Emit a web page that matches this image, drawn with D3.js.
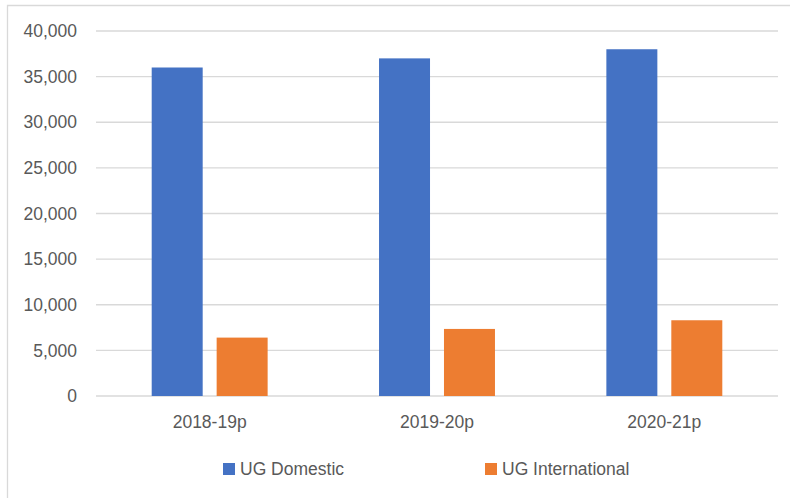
<!DOCTYPE html>
<html>
<head>
<meta charset="utf-8">
<script src="https://cdn.jsdelivr.net/npm/d3@7"></script>
<style>
  html, body { margin: 0; padding: 0; background: #fff; }
  svg { display: block; }
  text { font-family: "Liberation Sans", Arial, sans-serif; fill: #595959; }
</style>
</head>
<body>
<svg id="chart" width="790" height="498"></svg>
<script>
// Undergraduate enrolments by year
const years = ["2018-19p", "2019-20p", "2020-21p"];
const seriesNames = ["UG Domestic", "UG International"];
const ugDomestic = [36000, 37000, 38000];
const ugInternational = [6400, 7350, 8300];
const yTicks = [0, 5000, 10000, 15000, 20000, 25000, 30000, 35000, 40000];
const colors = ["#4472C4", "#ED7D31"];

const seriesValues = [ugDomestic, ugInternational];

const svg = d3.select("#chart");
const W = 790, H = 498;
const plot = { left: 96, right: 778, top: 31, bottom: 396 };

// chart frame
svg.append("path")
  .attr("d", `M7.5,${H} V5.5 H${W}`)
  .attr("fill", "none")
  .attr("stroke", "#d9d9d9")
  .attr("stroke-width", 1.3);

const y = d3.scaleLinear().domain([0, 40000]).range([plot.bottom, plot.top]);
const x0 = d3.scaleBand().domain(years).range([plot.left, plot.right]).padding(0);
const groupW = x0.bandwidth() * 0.51;
const x1 = d3.scaleBand().domain(seriesNames)
  .range([(x0.bandwidth() - groupW) / 2, (x0.bandwidth() + groupW) / 2])
  .paddingInner(0.215).paddingOuter(0);

// gridlines
svg.append("g")
  .selectAll("line")
  .data(yTicks)
  .join("line")
  .attr("x1", plot.left).attr("x2", plot.right)
  .attr("y1", d => y(d)).attr("y2", d => y(d))
  .attr("stroke", "#d9d9d9")
  .attr("stroke-width", 1.3);

// y axis labels
const fmt = d3.format(",");
svg.append("g")
  .selectAll("text")
  .data(yTicks)
  .join("text")
  .attr("x", 77)
  .attr("y", d => y(d))
  .attr("dy", "0.35em")
  .attr("text-anchor", "end")
  .attr("font-size", 17.5)
  .text(d => fmt(d));

// bars
const groups = svg.append("g")
  .selectAll("g")
  .data(years)
  .join("g")
  .attr("transform", d => `translate(${x0(d)},0)`);

groups.selectAll("rect")
  .data((d, i) => seriesNames.map((s, j) => ({ s, j, v: seriesValues[j][i] })))
  .join("rect")
  .attr("x", d => x1(d.s))
  .attr("width", x1.bandwidth())
  .attr("y", d => y(d.v))
  .attr("height", d => y(0) - y(d.v))
  .attr("fill", d => colors[d.j]);

// x axis labels
svg.append("g")
  .selectAll("text")
  .data(years)
  .join("text")
  .attr("x", d => x0(d) + x0.bandwidth() / 2)
  .attr("y", 428)
  .attr("text-anchor", "middle")
  .attr("font-size", 17.5)
  .text(d => d);

// legend
const legendX = [223, 485];
const legend = svg.append("g")
  .selectAll("g")
  .data(seriesNames)
  .join("g")
  .attr("transform", (d, i) => `translate(${legendX[i]},463)`);
legend.append("rect")
  .attr("width", 12).attr("height", 12)
  .attr("fill", (d, i) => colors[i]);
legend.append("text")
  .attr("x", 17)
  .attr("y", 12)
  .attr("font-size", 17.5)
  .text(d => d);
</script>
</body>
</html>
